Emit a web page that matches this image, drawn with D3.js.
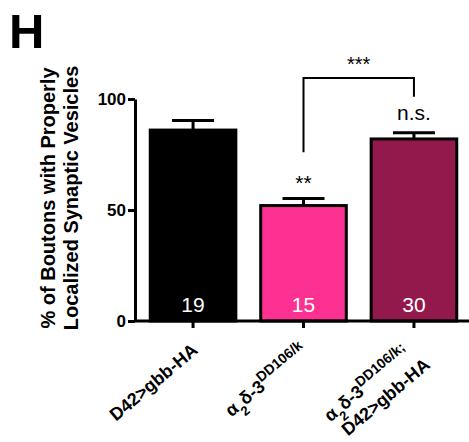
<!DOCTYPE html>
<html>
<head>
<meta charset="utf-8">
<script src="https://cdn.jsdelivr.net/npm/d3@7"></script>
<style>
  body { margin: 0; background: #fff; }
  text { font-family: "Liberation Sans", Arial, sans-serif; }
</style>
</head>
<body>
<div id="chart"></div>
<script>
// data
var groups = ["ctrl", "mut", "rescue"];
var means = [86, 52, 82];
var sems = [4.3, 3.2, 2.8];
var nCounts = ["19", "15", "30"];
var stars = ["", "**", "n.s."];
var yTicks = [0, 50, 100];
var barColors = ["#000000", "#fc3191", "#93184c"];

var W = 469, H = 442;
var svg = d3.select("#chart").append("svg")
    .attr("width", W).attr("height", H);

// panel letter
svg.append("text")
    .attr("x", 9).attr("y", 48)
    .style("font-size", "49px").style("font-weight", "bold")
    .text("H");

var x = d3.scaleBand()
    .domain(groups)
    .range([137, 470])
    .paddingInner(0.225)
    .paddingOuter(0.12);

var y = d3.scaleLinear()
    .domain([0, 100])
    .range([321, 99]);

var g = svg.append("g");

// bars
g.selectAll("rect.bar")
    .data(groups)
    .enter()
    .append("rect")
    .attr("class", "bar")
    .attr("x", d => x(d))
    .attr("y", (d, i) => y(means[i]))
    .attr("width", x.bandwidth())
    .attr("height", (d, i) => y(0) - y(means[i]))
    .style("fill", (d, i) => barColors[i])
    .style("stroke", "#000")
    .style("stroke-width", 3);

// error bars (upper only)
groups.forEach(function (d, i) {
    var cx = x(d) + x.bandwidth() / 2;
    g.append("line")
        .attr("x1", cx).attr("x2", cx)
        .attr("y1", y(means[i])).attr("y2", y(means[i] + sems[i]))
        .style("stroke", "#000").style("stroke-width", 3);
    g.append("line")
        .attr("x1", cx - 21).attr("x2", cx + 21)
        .attr("y1", y(means[i] + sems[i])).attr("y2", y(means[i] + sems[i]))
        .style("stroke", "#000").style("stroke-width", 3);
    // n inside bar
    g.append("text")
        .attr("x", cx).attr("y", y(0) - 9)
        .attr("text-anchor", "middle")
        .style("fill", "#fff").style("font-size", "21px")
        .text(nCounts[i]);
    // significance vs control
    if (stars[i]) {
        g.append("text")
            .attr("x", cx)
            .attr("y", stars[i] == "**" ? y(means[i] + sems[i]) - 8 : y(means[i] + sems[i]) - 13)
            .attr("text-anchor", "middle")
            .style("font-size", "21px")
            .text(stars[i]);
    }
});

// bracket between mut and rescue
var c1 = x("mut") + x.bandwidth() / 2, c2 = x("rescue") + x.bandwidth() / 2;
g.append("path")
    .attr("d", "M" + c1 + "," + y(76) + "V" + y(109.5) + "H" + c2 + "V" + y(101))
    .style("fill", "none").style("stroke", "#000").style("stroke-width", 2);
g.append("text")
    .attr("x", (c1 + c2) / 2).attr("y", y(109.5) - 7)
    .attr("text-anchor", "middle")
    .style("font-size", "20px")
    .text("***");

// y axis
var yAxis = svg.append("g")
    .attr("transform", "translate(135,0)")
    .call(d3.axisLeft(y).tickValues(yTicks).tickSize(7).tickSizeOuter(0));
yAxis.select(".domain").style("stroke-width", 3);
yAxis.selectAll(".tick line").style("stroke-width", 3);
yAxis.selectAll(".tick text")
    .attr("x", -9)
    .style("font-size", "17px").style("font-weight", "bold")
    .style("font-family", "Liberation Sans, Arial, sans-serif");

// x axis
var xAxis = svg.append("g")
    .attr("transform", "translate(0,321)")
    .call(d3.axisBottom(x).tickSize(7).tickSizeOuter(0).tickFormat(""));
xAxis.select(".domain").attr("d", "M134,0H469").style("stroke-width", 3);
xAxis.selectAll(".tick line").style("stroke-width", 3);

// rotated x labels with sub/superscripts
function label(i, dx, dy, lines) {
    var cx = x(groups[i]) + x.bandwidth() / 2;
    var t = svg.append("text")
        .attr("transform", "translate(" + (cx + dx) + "," + dy + ") rotate(-40)")
        .attr("text-anchor", "end")
        .style("font-size", "18px").style("font-weight", "bold");
    lines.forEach(function (parts, li) {
        parts.forEach(function (p, pi) {
            var ts = t.append("tspan").text(p[0]);
            if (pi == 0) ts.attr("x", li * 8).attr("y", li * 22);
            if (p[1] == "sub") ts.attr("baseline-shift", "sub").style("font-size", "13px");
            if (p[1] == "sup") ts.attr("baseline-shift", "super").style("font-size", "14px");
        });
    });
}
label(0, 6, 352, [[["D42>gbb-HA"]]]);
label(1, 5, 353, [[["α"], ["2", "sub"], ["δ-3"], ["DD106/k", "sup"]]]);
label(2, -3, 355, [[["α"], ["2", "sub"], ["δ-3"], ["DD106/k", "sup"], [";", "sup"]], [["D42>gbb-HA"]]]);

// y axis title
var yt = svg.append("text")
    .attr("transform", "translate(55,198) rotate(-90)")
    .attr("text-anchor", "middle")
    .style("font-size", "20px").style("font-weight", "bold");
yt.append("tspan").attr("x", 0).attr("dy", 0).text("% of Boutons with Properly");
yt.append("tspan").attr("x", 0).attr("dy", 23).text("Localized Synaptic Vesicles");
</script>
</body>
</html>
